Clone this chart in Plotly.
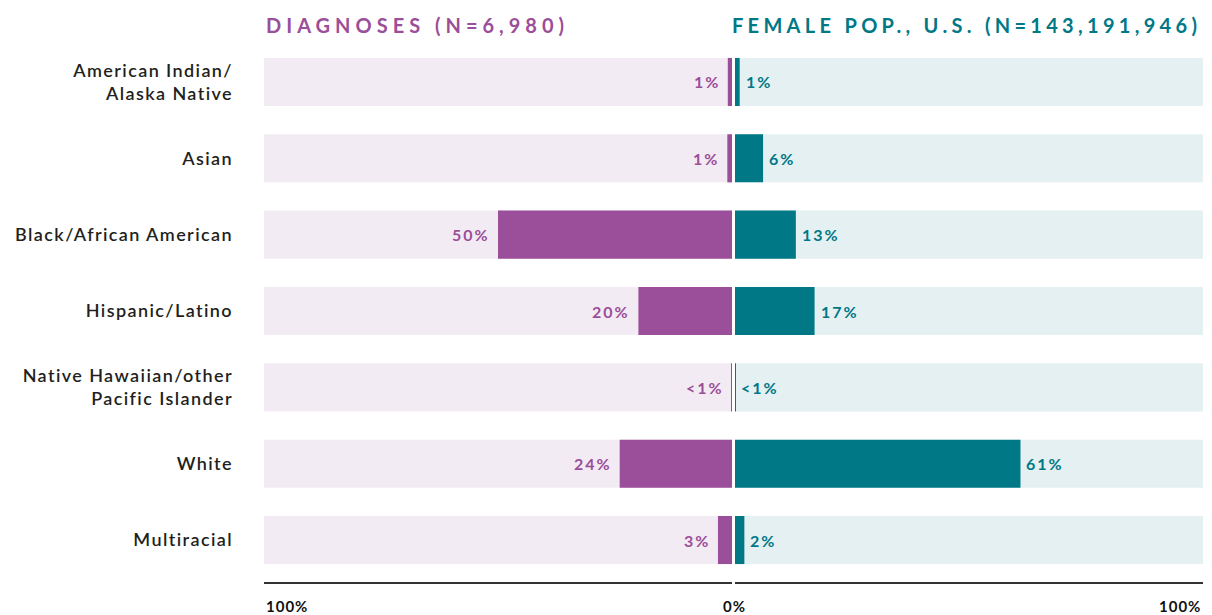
import plotly.graph_objects as go

CATEGORIES = [
    'American Indian/<br>Alaska Native',
    'Asian',
    'Black/African American',
    'Hispanic/Latino',
    'Native Hawaiian/other<br>Pacific Islander',
    'White',
    'Multiracial',
]
DIAGNOSES = [0.9, 1, 50, 20, 0.05, 24, 3]
DIAG_LABELS = ['1%', '1%', '50%', '20%', '<1%', '24%', '3%']
FEMALE_POP = [1, 6, 13, 17, 0.1, 61, 2]
POP_LABELS = ['1%', '6%', '13%', '17%', '<1%', '61%', '2%']

PURPLE = '#9B4E99'
PURPLE_LIGHT = '#F3EBF4'
TEAL = '#007886'
TEAL_LIGHT = '#E4F0F2'
FONT = 'Lato'

# the page puts the figure 8px in from the top-left corner
W, H = 1204, 607
L, R, T, B = 256, 9, 32, 33
plot_w = W - L - R
plot_h = H - T - B
left_dom = [0, 468 / plot_w]
right_dom = [471 / plot_w, 1]
BAR_W = 0.63


def spaced(txt, px):
    return f'<span style="letter-spacing:{px}px">{txt}</span>'


fig = go.Figure()

# background tracks
fig.add_trace(go.Bar(x=[100] * len(CATEGORIES), y=CATEGORIES, orientation='h',
                     marker=dict(color=PURPLE_LIGHT, line_width=0), width=BAR_W,
                     hoverinfo='skip', xaxis='x', yaxis='y'))
fig.add_trace(go.Bar(x=[100] * len(CATEGORIES), y=CATEGORIES, orientation='h',
                     marker=dict(color=TEAL_LIGHT, line_width=0), width=BAR_W,
                     hoverinfo='skip', xaxis='x2', yaxis='y'))

# data bars
fig.add_trace(go.Bar(x=DIAGNOSES, y=CATEGORIES, orientation='h',
                     marker=dict(color=PURPLE, line_width=0), width=BAR_W,
                     name='Diagnoses', xaxis='x', yaxis='y'))
fig.add_trace(go.Bar(x=FEMALE_POP, y=CATEGORIES, orientation='h',
                     marker=dict(color=TEAL, line_width=0), width=BAR_W,
                     name='Female pop.', xaxis='x2', yaxis='y'))

annotations = []
for cat, v, lab in zip(CATEGORIES, DIAGNOSES, DIAG_LABELS):
    annotations.append(dict(
        x=v, y=cat, xref='x', yref='y', xanchor='right', xshift=-6,
        text=spaced(lab, 2), showarrow=False,
        font=dict(family=FONT, size=16, color=PURPLE, weight='bold')))
for cat, v, lab in zip(CATEGORIES, FEMALE_POP, POP_LABELS):
    annotations.append(dict(
        x=v, y=cat, xref='x2', yref='y', xanchor='left', xshift=4,
        text=spaced(lab, 2), showarrow=False,
        font=dict(family=FONT, size=16, color=TEAL, weight='bold')))

title_y = 1 + 15 / plot_h
annotations += [
    dict(x=0, y=title_y, xref='paper', yref='paper', xanchor='left', yanchor='middle',
         text=spaced('DIAGNOSES (N=6,980)', 5),
         showarrow=False, font=dict(family=FONT, size=20, color=PURPLE, weight='bold')),
    dict(x=1, y=title_y, xref='paper', yref='paper', xanchor='right', yanchor='middle',
         text=spaced('FEMALE POP., U.S. (N=143,191,946)', 4.3),
         showarrow=False, font=dict(family=FONT, size=20, color=TEAL, weight='bold')),
]
tick_y = -24 / plot_h
for x, anchor, txt in [(0, 'left', '100%'), (470 / plot_w, 'center', '0%'), (1, 'right', '100%')]:
    annotations.append(dict(x=x, y=tick_y, xref='paper', yref='paper', xanchor=anchor,
                            yanchor='middle', text=spaced(txt, 1), showarrow=False,
                            font=dict(family=FONT, size=15, color='#111', weight='bold')))

fig.update_layout(
    width=W, height=H,
    barmode='overlay',
    showlegend=False,
    plot_bgcolor='white', paper_bgcolor='white',
    margin=dict(l=L, r=R, t=T, b=B, autoexpand=False),
    font=dict(family=FONT, color='#222'),
    xaxis=dict(domain=left_dom, range=[100, 0], showgrid=False, zeroline=False,
               showticklabels=False, ticks='', showline=True, linecolor='#333',
               linewidth=1.5, anchor='y', fixedrange=True, automargin=False),
    xaxis2=dict(domain=right_dom, range=[0, 100], showgrid=False, zeroline=False,
                showticklabels=False, ticks='', showline=True, linecolor='#333',
                linewidth=1.5, anchor='y', fixedrange=True, automargin=False),
    yaxis=dict(type='category', categoryorder='array', categoryarray=CATEGORIES,
               tickvals=CATEGORIES, ticktext=[spaced(c, 1.4) for c in CATEGORIES],
               range=[6.55, -0.55], showgrid=False, zeroline=False, showline=False,
               ticks='', ticklabelstandoff=30, automargin=False,
               tickfont=dict(family=FONT, size=18, color='#231F20', weight=600),
               fixedrange=True),
    annotations=annotations,
)

fig.write_html('out.html')
